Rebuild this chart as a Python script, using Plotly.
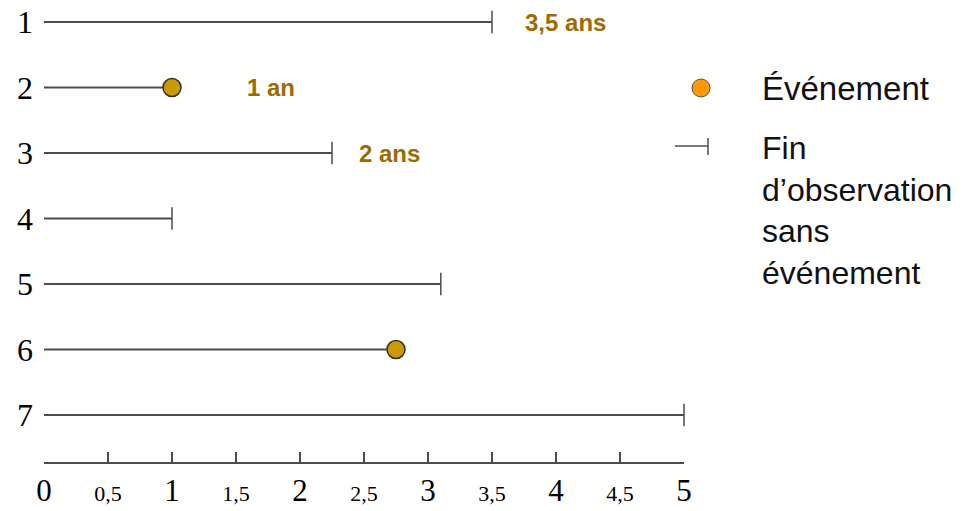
import plotly.graph_objects as go

# ---- data ----
subjects = [1, 2, 3, 4, 5, 6, 7]
row_labels = ["1", "2", "3", "4", "5", "6", "7"]
follow_up_years = [3.5, 1.0, 2.25, 1.0, 3.1, 2.75, 5.0]
had_event = [False, True, False, False, False, True, False]
duration_label_subjects = [1, 2, 3]
duration_label_texts = ["3,5 ans", "1 an", "2 ans"]
x_tick_values = [0, 0.5, 1, 1.5, 2, 2.5, 3, 3.5, 4, 4.5, 5]
x_tick_labels = ["0", "0,5", "1", "1,5", "2", "2,5", "3", "3,5", "4", "4,5", "5"]
legend_event_label = "Événement"
legend_censor_label = "Fin<br>d’observation<br>sans<br>événement"

# ---- styles ----
W, H = 974, 511
ML, MR, MT, MB = 44, 290, 0, 49
PW, PH = W - ML - MR, H - MT - MB
LINE_COLOR = "#4d4d4d"
DOT_COLOR = "#CC9900"
LABEL_COLOR = "#9E6B00"
SERIF = "Liberation Serif, Times New Roman, serif"
SANS = "Liberation Sans, Arial, sans-serif"


def px_to_paper(x, y):
    return (x - ML) / PW, 1 - (y - MT) / PH


fig = go.Figure()

# follow-up segments
seg_x, seg_y = [], []
for s, t in zip(subjects, follow_up_years):
    seg_x += [0, t, None]
    seg_y += [s, s, None]
fig.add_trace(go.Scatter(x=seg_x, y=seg_y, mode="lines",
                         line=dict(color=LINE_COLOR, width=2),
                         hoverinfo="skip", showlegend=False))

# censoring ticks
cx = [t for t, e in zip(follow_up_years, had_event) if not e]
cy = [s for s, e in zip(subjects, had_event) if not e]
fig.add_trace(go.Scatter(x=cx, y=cy, mode="markers", cliponaxis=False,
                         marker=dict(symbol="line-ns", size=16,
                                     line=dict(color=LINE_COLOR, width=1.5)),
                         showlegend=False))

# events
ex = [t for t, e in zip(follow_up_years, had_event) if e]
ey = [s for s, e in zip(subjects, had_event) if e]
fig.add_trace(go.Scatter(x=ex, y=ey, mode="markers", cliponaxis=False,
                         marker=dict(symbol="circle", size=18, color=DOT_COLOR,
                                     line=dict(color="#333333", width=1.5)),
                         showlegend=False))

# duration labels
shifts = {1: 31, 2: 73, 3: 25}
for s, txt in zip(duration_label_subjects, duration_label_texts):
    fig.add_annotation(x=follow_up_years[s - 1], y=s, text="<b>" + txt + "</b>",
                       showarrow=False, xanchor="left", yanchor="middle",
                       xshift=shifts[s],
                       font=dict(family=SANS, size=24, color=LABEL_COLOR))

# custom legend
r = 9
x0, y0 = px_to_paper(701 - r, 88 + r)
x1, y1 = px_to_paper(701 + r, 88 - r)
fig.add_shape(type="circle", xref="paper", yref="paper", x0=x0, y0=y0, x1=x1, y1=y1,
              fillcolor="#FF9900", line=dict(color="#555555", width=1))
lx0, ly = px_to_paper(675, 146)
lx1, _ = px_to_paper(708, 146)
_, ty0 = px_to_paper(708, 138)
_, ty1 = px_to_paper(708, 155)
fig.add_shape(type="line", xref="paper", yref="paper", x0=lx0, y0=ly, x1=lx1, y1=ly,
              line=dict(color=LINE_COLOR, width=1.5))
fig.add_shape(type="line", xref="paper", yref="paper", x0=lx1, y0=ty0, x1=lx1, y1=ty1,
              line=dict(color=LINE_COLOR, width=1.5))
tx, tyy = px_to_paper(760, 88)
fig.add_annotation(xref="paper", yref="paper", x=tx, y=tyy, text=legend_event_label,
                   showarrow=False, xanchor="left", yanchor="middle",
                   font=dict(family=SANS, size=33, color="#111111"))
tx, tyy = px_to_paper(760, 128)
fig.add_annotation(xref="paper", yref="paper", x=tx, y=tyy, text=legend_censor_label,
                   showarrow=False, xanchor="left", yanchor="top", align="left",
                   font=dict(family=SANS, size=32, color="#111111"))

tick_text = [t if float(v).is_integer() else "<span style='font-size:22px'>" + t + "</span>"
             for v, t in zip(x_tick_values, x_tick_labels)]

y_top = 1 - 22 / 65.5
y_bot = 1 + (PH - 22) / 65.5

fig.update_layout(
    width=W, height=H,
    margin=dict(l=ML, r=MR, t=MT, b=MB, pad=0),
    paper_bgcolor="white", plot_bgcolor="white",
    showlegend=False,
    xaxis=dict(range=[0, 5], tickmode="array", tickvals=x_tick_values, ticktext=tick_text,
               showgrid=False, zeroline=False, showline=True, linecolor=LINE_COLOR,
               linewidth=1.5, ticks="inside", ticklen=10, tickwidth=1.5,
               tickcolor=LINE_COLOR, tickfont=dict(family=SERIF, size=31, color="black"),
               tickangle=0, fixedrange=True),
    yaxis=dict(range=[y_bot, y_top], tickmode="array", tickvals=subjects,
               ticktext=row_labels, showgrid=False, zeroline=False, showline=False,
               ticks="", ticklabelstandoff=10,
               tickfont=dict(family=SERIF, size=32, color="black"), fixedrange=True),
)

fig.write_html("out.html", config={"displayModeBar": False},
               post_script="document.body.style.margin='0';document.body.style.overflow='hidden';")
